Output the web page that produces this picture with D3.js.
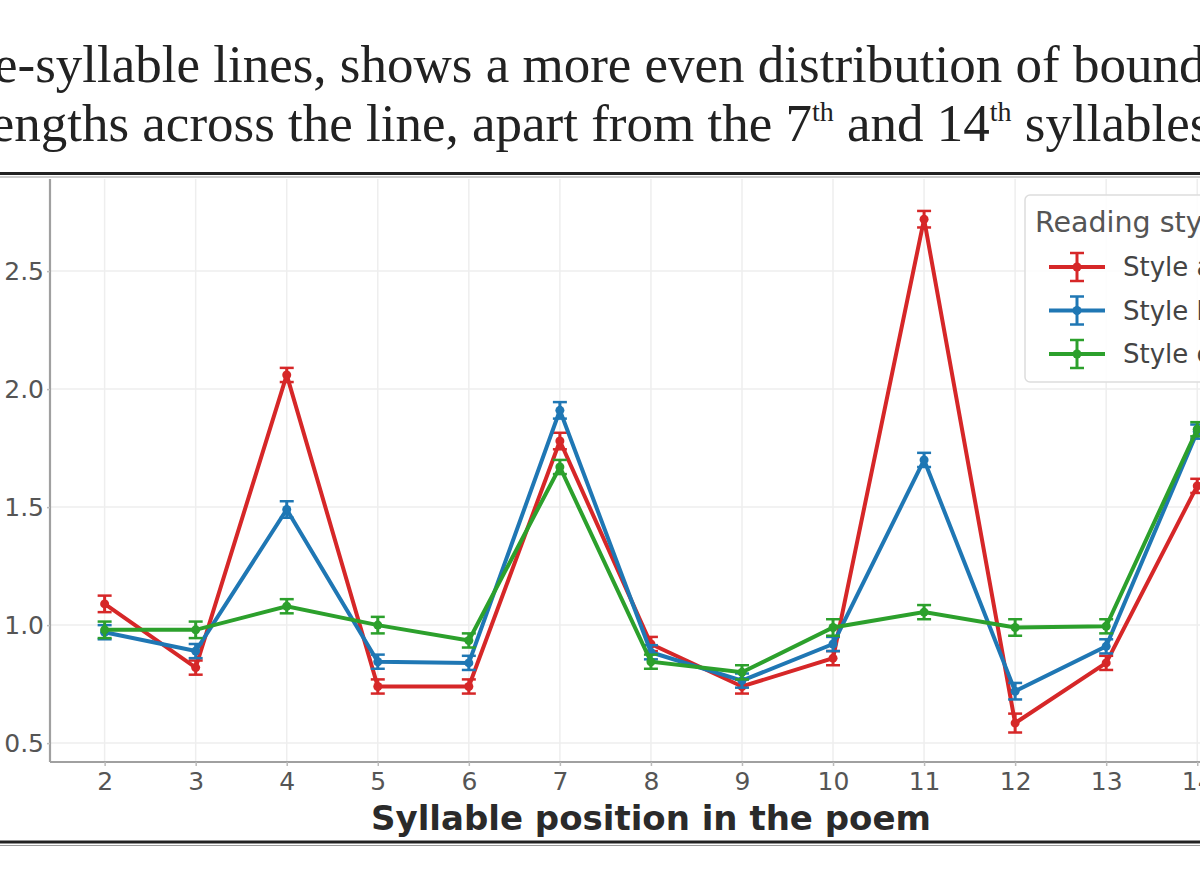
<!DOCTYPE html>
<html>
<head>
<meta charset="utf-8">
<script src="https://cdn.jsdelivr.net/npm/d3@7"></script>
<style>
  body { margin: 0; background: #fff; }
  svg { display: block; }
</style>
</head>
<body>
<div id="graph"></div>
<script>
// syllable positions on the x axis
var positions = [2, 3, 4, 5, 6, 7, 8, 9, 10, 11, 12, 13, 14];

// mean boundary strength per reading style
var styleA = [1.09, 0.82, 2.06, 0.74, 0.74, 1.78, 0.92, 0.74, 0.86, 2.72, 0.585, 0.84, 1.59];
var styleB = [0.97, 0.89, 1.49, 0.845, 0.84, 1.91, 0.885, 0.765, 0.92, 1.70, 0.72, 0.91, 1.82];
var styleC = [0.98, 0.98, 1.08, 1.00, 0.935, 1.67, 0.845, 0.80, 0.99, 1.055, 0.99, 0.995, 1.83];

// error bar half widths
var errA = [0.035, 0.03, 0.03, 0.03, 0.03, 0.035, 0.03, 0.03, 0.03, 0.035, 0.04, 0.03, 0.03];
var errB = [0.03, 0.03, 0.035, 0.03, 0.03, 0.035, 0.03, 0.03, 0.03, 0.03, 0.035, 0.03, 0.03];
var errC = [0.035, 0.035, 0.03, 0.035, 0.03, 0.03, 0.03, 0.03, 0.035, 0.03, 0.035, 0.03, 0.03];

var seriesNames = ["Style a", "Style b", "Style c"];
var seriesColors = ["#d62728", "#1f77b4", "#2ca02c"];
var yTicks = [0.5, 1.0, 1.5, 2.0, 2.5];

var width = 1200, height = 875;

var svg = d3.select("#graph")
    .append("svg")
    .attr("width", width)
    .attr("height", height)
    .style("overflow", "hidden");

// paper text above the figure (cropped on both sides)
var serif = "'Liberation Serif', 'Times New Roman', serif";
svg.append("text")
    .attr("x", -6)
    .attr("y", 82)
    .attr("font-family", serif)
    .attr("font-size", 53)
    .attr("fill", "#222")
    .text("e-syllable lines, shows a more even distribution of boundary");

var line2 = svg.append("text")
    .attr("x", -24)
    .attr("y", 141)
    .attr("font-family", serif)
    .attr("font-size", 53)
    .attr("fill", "#222");
line2.append("tspan").text("lengths across the line, apart from the 7");
line2.append("tspan").attr("font-size", 28).attr("dy", -20).text("th");
line2.append("tspan").attr("dy", 20).text(" and 14");
line2.append("tspan").attr("font-size", 28).attr("dy", -20).text("th");
line2.append("tspan").attr("dy", 20).text(" syllables.");

// figure frame rules
[[173.5, 3, "#222"], [177, 1, "#999"], [842, 3, "#222"], [845.5, 1, "#999"]].forEach(function(r) {
    svg.append("line")
        .attr("x1", 0).attr("x2", width)
        .attr("y1", r[0]).attr("y2", r[0])
        .attr("stroke", r[2]).attr("stroke-width", r[1]);
});

var plotLeft = 50, plotBottom = 762, plotTop = 179;

var x = d3.scaleLinear()
    .domain([1.4, 14.6])
    .range([plotLeft, plotLeft + 13.2 * 91.05]);

var y = d3.scaleLinear()
    .domain([0.42, 0.42 + (plotBottom - plotTop) / 236])
    .range([plotBottom, plotTop]);

var plotRight = x(14.6);

// grid
var grid = svg.append("g");
grid.selectAll(".vg")
    .data(positions)
    .enter()
    .append("line")
    .attr("x1", d => x(d)).attr("x2", d => x(d))
    .attr("y1", plotTop).attr("y2", plotBottom)
    .attr("stroke", "#eeeeee").attr("stroke-width", 1.5);
grid.selectAll(".hg")
    .data(yTicks)
    .enter()
    .append("line")
    .attr("x1", plotLeft).attr("x2", plotRight)
    .attr("y1", d => y(d)).attr("y2", d => y(d))
    .attr("stroke", "#eeeeee").attr("stroke-width", 1.5);

var sans = "'DejaVu Sans', sans-serif";

// axes
var xAxis = svg.append("g")
    .attr("transform", "translate(0," + plotBottom + ")")
    .call(d3.axisBottom(x).tickValues(positions).tickSize(4).tickPadding(6).tickFormat(d3.format("d")));
var yAxis = svg.append("g")
    .attr("transform", "translate(" + plotLeft + ",0)")
    .call(d3.axisLeft(y).tickValues(yTicks).tickSize(3).tickPadding(3).tickFormat(d3.format(".1f")));

[xAxis, yAxis].forEach(function(a) {
    a.select(".domain").attr("stroke", "#a0a0a0").attr("stroke-width", 2.2);
    a.selectAll(".tick line").attr("stroke", "#bbb").attr("stroke-width", 1.5);
    a.selectAll(".tick text")
        .attr("font-family", sans)
        .attr("font-size", 25)
        .attr("fill", "#555");
});
yAxis.select(".domain").attr("d", "M0," + plotTop + "V" + plotBottom);
xAxis.select(".domain").attr("d", "M" + plotLeft + ",0H" + plotRight);

svg.append("text")
    .attr("x", 651)
    .attr("y", 830)
    .attr("text-anchor", "middle")
    .attr("font-family", sans)
    .attr("font-weight", "bold")
    .attr("font-size", 34)
    .attr("fill", "#2a2a2a")
    .text("Syllable position in the poem");

// y label sits outside the crop, only the edge of it reached the picture
svg.append("text")
    .attr("transform", "translate(-10,470) rotate(-90)")
    .attr("text-anchor", "middle")
    .attr("font-family", sans)
    .attr("font-weight", "bold")
    .attr("font-size", 34)
    .attr("fill", "#2a2a2a")
    .text("Boundary strength");

// series
var seriesValues = [styleA, styleB, styleC];
var seriesErrors = [errA, errB, errC];

var lineGen = d3.line()
    .x(d => x(d.pos))
    .y(d => y(d.val));

seriesValues.forEach(function(vals, s) {
    var pts = positions.map((p, i) => ({pos: p, val: vals[i], err: seriesErrors[s][i]}));
    var g = svg.append("g");
    var col = seriesColors[s];

    g.append("path")
        .datum(pts)
        .attr("d", lineGen)
        .attr("fill", "none")
        .attr("stroke", col)
        .attr("stroke-width", 4)
        .attr("stroke-linejoin", "miter");

    var eb = g.selectAll(".eb")
        .data(pts)
        .enter()
        .append("g");
    eb.append("line")
        .attr("x1", d => x(d.pos)).attr("x2", d => x(d.pos))
        .attr("y1", d => y(d.val - d.err)).attr("y2", d => y(d.val + d.err))
        .attr("stroke", col).attr("stroke-width", 3);
    eb.append("line")
        .attr("x1", d => x(d.pos) - 7).attr("x2", d => x(d.pos) + 7)
        .attr("y1", d => y(d.val + d.err)).attr("y2", d => y(d.val + d.err))
        .attr("stroke", col).attr("stroke-width", 2.5);
    eb.append("line")
        .attr("x1", d => x(d.pos) - 7).attr("x2", d => x(d.pos) + 7)
        .attr("y1", d => y(d.val - d.err)).attr("y2", d => y(d.val - d.err))
        .attr("stroke", col).attr("stroke-width", 2.5);
    eb.append("circle")
        .attr("cx", d => x(d.pos)).attr("cy", d => y(d.val))
        .attr("r", 4.5)
        .attr("fill", col);
});

// legend
var legend = svg.append("g").attr("transform", "translate(1025,195)");
legend.append("rect")
    .attr("x", 0).attr("y", 0)
    .attr("width", 250).attr("height", 187)
    .attr("rx", 5)
    .attr("fill", "#fff").attr("fill-opacity", 0.85)
    .attr("stroke", "#dddddd").attr("stroke-width", 1.5);
legend.append("text")
    .attr("x", 10).attr("y", 37)
    .attr("font-family", sans)
    .attr("font-size", 28.5)
    .attr("fill", "#555")
    .text("Reading style");

var items = legend.selectAll(".item")
    .data(seriesNames)
    .enter()
    .append("g")
    .attr("transform", (d, i) => "translate(0," + (72 + i * 43.5) + ")");
items.append("line")
    .attr("x1", 24).attr("x2", 80)
    .attr("stroke", (d, i) => seriesColors[i]).attr("stroke-width", 4);
items.append("line")
    .attr("x1", 52).attr("x2", 52).attr("y1", -14).attr("y2", 14)
    .attr("stroke", (d, i) => seriesColors[i]).attr("stroke-width", 3);
items.append("line")
    .attr("x1", 45).attr("x2", 59).attr("y1", -14).attr("y2", -14)
    .attr("stroke", (d, i) => seriesColors[i]).attr("stroke-width", 2.5);
items.append("line")
    .attr("x1", 45).attr("x2", 59).attr("y1", 14).attr("y2", 14)
    .attr("stroke", (d, i) => seriesColors[i]).attr("stroke-width", 2.5);
items.append("circle")
    .attr("cx", 52).attr("r", 4.5)
    .attr("fill", (d, i) => seriesColors[i]);
items.append("text")
    .attr("x", 98).attr("y", 9)
    .attr("font-family", sans)
    .attr("font-size", 26)
    .attr("fill", "#444")
    .text(d => d);
</script>
</body>
</html>
